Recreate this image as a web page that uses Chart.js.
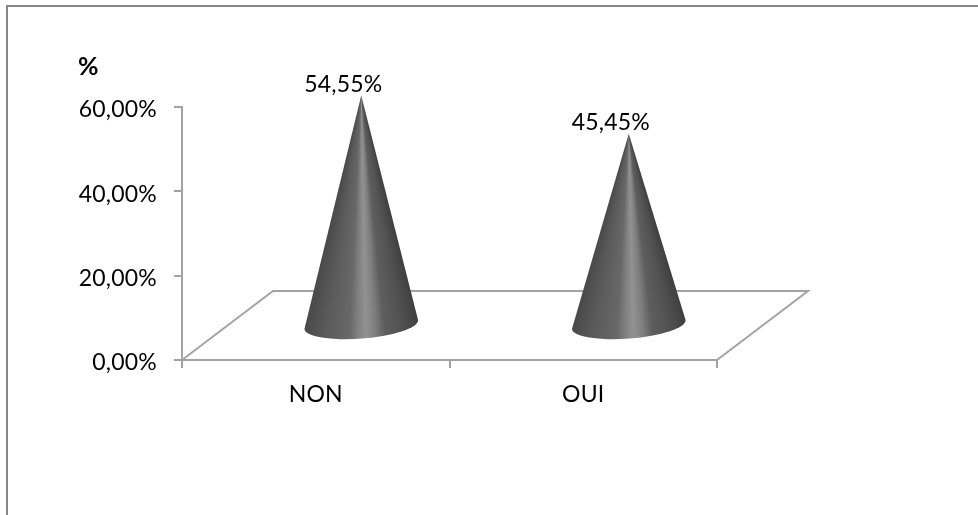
<!DOCTYPE html>
<html>
<head>
<meta charset="utf-8">
<script src="https://cdn.jsdelivr.net/npm/chart.js@4"></script>
<style>
  html, body { margin: 0; padding: 0; background: #fff; }
  #wrap { position: relative; width: 978px; height: 515px; overflow: hidden; }
  #frame { position: absolute; left: 6px; top: 5px; right: 0; bottom: 0; border-left: 2px solid #868686; border-top: 2px solid #868686; }
  canvas { position: absolute; left: 0; top: 0; }
</style>
</head>
<body>
<div id="wrap">
  <div id="frame"></div>
  <canvas id="myChart" width="978" height="515"></canvas>
</div>
<script>
const categories = ['NON', 'OUI']
const values = [54.55, 45.45]
const tickLabels = ['0,00%', '20,00%', '40,00%', '60,00%']
const axisTitle = '%'

const fontName = 'Lato, "Open Sans", sans-serif'
const fontSize = 23
const lineGrey = '#a3a3a3'

// depth of the floor, the cones stand in the middle of it
const depthX = 91
const depthY = 69

// shading around the front of a cone, 0 is the left edge and 1 the right edge
const shadeStops = [
  [0, '#484848'], [0.2, '#5a5a5a'], [0.4, '#686868'], [0.47, '#808080'], [0.54, '#929292'],
  [0.62, '#7e7e7e'], [0.7, '#5e5e5e'], [0.85, '#525252'], [1, '#404040']
]

function drawCone(ctx, cx, baseY, apexY) {
  const rx = 57
  const ry = 14
  const tilt = -0.08
  const height = baseY - apexY

  // the shading fans out from the tip, so a conic gradient centred there fits it
  const grad = ctx.createConicGradient(0, cx, apexY)
  const toStop = t => Math.atan2(height, rx * (2 * t - 1)) / (2 * Math.PI)
  shadeStops.slice().reverse().forEach(s => grad.addColorStop(toStop(s[0]), s[1]))

  ctx.fillStyle = grad
  ctx.beginPath()
  ctx.moveTo(cx, apexY)
  ctx.ellipse(cx, baseY, rx, ry, tilt, Math.PI, 0, true)
  ctx.closePath()
  ctx.fill()
}

const conePlugin = {
  id: 'cones',
  beforeDraw(chart) {
    chart.ctx.letterSpacing = '0.2px'
  },
  beforeDatasetsDraw(chart) {
    const ctx = chart.ctx
    const area = chart.chartArea
    ctx.save()
    ctx.strokeStyle = lineGrey
    ctx.lineWidth = 2
    ctx.beginPath()
    ctx.moveTo(area.left, area.bottom)
    ctx.lineTo(area.left + depthX, area.bottom - depthY)
    ctx.lineTo(area.right + depthX, area.bottom - depthY)
    ctx.lineTo(area.right, area.bottom)
    ctx.stroke()
    ctx.restore()
  },
  afterDatasetsDraw(chart) {
    const ctx = chart.ctx
    const bars = chart.getDatasetMeta(0).data
    ctx.save()
    bars.forEach((bar, i) => {
      const cx = bar.x + depthX / 2
      const dy = depthY / 2
      drawCone(ctx, cx, bar.base - dy, bar.y - dy)
      ctx.fillStyle = '#000'
      ctx.font = fontSize + 'px ' + fontName
      ctx.textAlign = 'center'
      ctx.textBaseline = 'middle'
      ctx.fillText(values[i].toFixed(2).replace('.', ',') + '%', cx - 18, bar.y - dy - 11)
    })
    ctx.fillStyle = '#000'
    ctx.font = 'bold 25px ' + fontName
    ctx.textAlign = 'left'
    ctx.textBaseline = 'middle'
    ctx.fillText(axisTitle, 78, 67)
    ctx.restore()
  }
}

const config = {
  type: 'bar',
  data: {
    labels: categories,
    datasets: [{
      data: values,
      backgroundColor: 'transparent',
      borderWidth: 0
    }]
  },
  options: {
    responsive: false,
    animation: false,
    layout: { padding: { left: 0, right: 261, top: 107, bottom: 0 } },
    plugins: { legend: { display: false }, tooltip: { enabled: false } },
    scales: {
      x: {
        afterFit(axis) { axis.height = 155 },
        grid: { offset: true, drawOnChartArea: false, color: lineGrey, tickLength: 8, lineWidth: 2 },
        border: { color: lineGrey, width: 2 },
        ticks: { color: '#000', font: { family: fontName, size: fontSize }, padding: 13, maxRotation: 0 }
      },
      y: {
        min: 0,
        max: 60,
        afterFit(axis) { axis.width = 182 },
        afterBuildTicks(axis) {
          axis.ticks = tickLabels.map((t, i) => ({ value: i * 20 }))
        },
        grid: { drawOnChartArea: false, color: lineGrey, tickLength: 8, lineWidth: 2 },
        border: { color: lineGrey, width: 2 },
        ticks: {
          color: '#000',
          font: { family: fontName, size: fontSize },
          padding: 17,
          labelOffset: 3,
          callback(value, index) { return tickLabels[index] }
        }
      }
    }
  },
  plugins: [conePlugin]
}

const myChart = new Chart(document.getElementById('myChart'), config)
</script>
</body>
</html>
